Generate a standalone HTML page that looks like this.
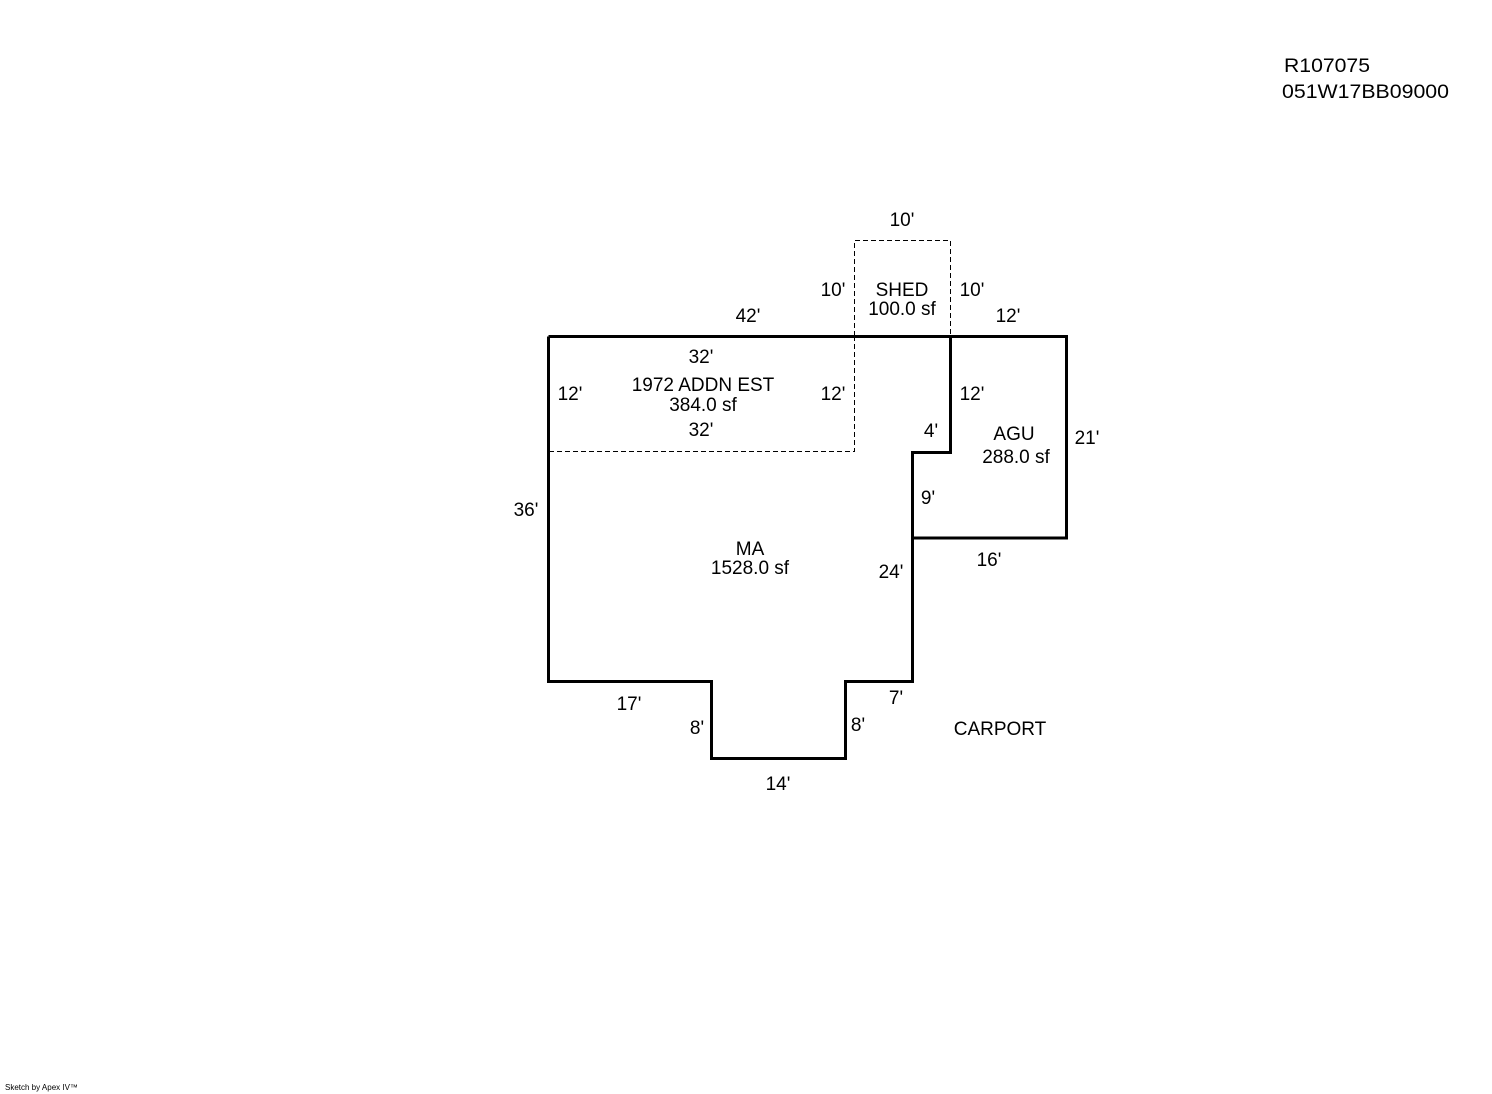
<!DOCTYPE html>
<html><head><style>body{margin:0;background:#fff}svg{display:block}</style></head><body>
<svg width="1492" height="1094" xmlns="http://www.w3.org/2000/svg" font-family="Liberation Sans, Arial, sans-serif" font-size="19" fill="#000">
<g fill="none" stroke="#000" stroke-width="1" stroke-dasharray="5,3">
<path d="M854.5 336 V240.5 H950.5 V336"/>
<path d="M854.5 336 V451.5 H548"/>
</g>
<g fill="none" stroke="#000" stroke-width="3" stroke-linejoin="miter">
<path d="M548.5 336.5 H1066.5 V538 H912.5"/>
<path d="M548.5 336.5 V681.5 H711.5 V758.5 H845.5 V681.5 H912.5 V452.5 H950.5 V336.5"/>
</g>
<text x="1284" y="72" textLength="86" lengthAdjust="spacingAndGlyphs">R107075</text>
<text x="1282" y="98" textLength="167" lengthAdjust="spacingAndGlyphs">051W17BB09000</text>
<g text-anchor="middle">
<text x="902" y="226">10'</text>
<text x="833" y="296">10'</text>
<text x="972" y="296">10'</text>
<text x="902" y="296">SHED</text>
<text x="902" y="315">100.0 sf</text>
<text x="748" y="322">42'</text>
<text x="1008" y="322">12'</text>
<text x="701" y="363">32'</text>
<text x="703" y="391">1972 ADDN EST</text>
<text x="703" y="411">384.0 sf</text>
<text x="570" y="400">12'</text>
<text x="833" y="400">12'</text>
<text x="972" y="400">12'</text>
<text x="701" y="436">32'</text>
<text x="931" y="437">4'</text>
<text x="1014" y="440">AGU</text>
<text x="1016" y="463">288.0 sf</text>
<text x="1087" y="444">21'</text>
<text x="928" y="504">9'</text>
<text x="526" y="516">36'</text>
<text x="750" y="555">MA</text>
<text x="750" y="574">1528.0 sf</text>
<text x="989" y="566">16'</text>
<text x="891" y="578">24'</text>
<text x="896" y="704">7'</text>
<text x="629" y="710">17'</text>
<text x="697" y="734">8'</text>
<text x="858" y="731">8'</text>
<text x="1000" y="735">CARPORT</text>
<text x="778" y="790">14'</text>
</g>
<text x="5" y="1090" font-size="8">Sketch by Apex IV™</text>
</svg>
</body></html>
